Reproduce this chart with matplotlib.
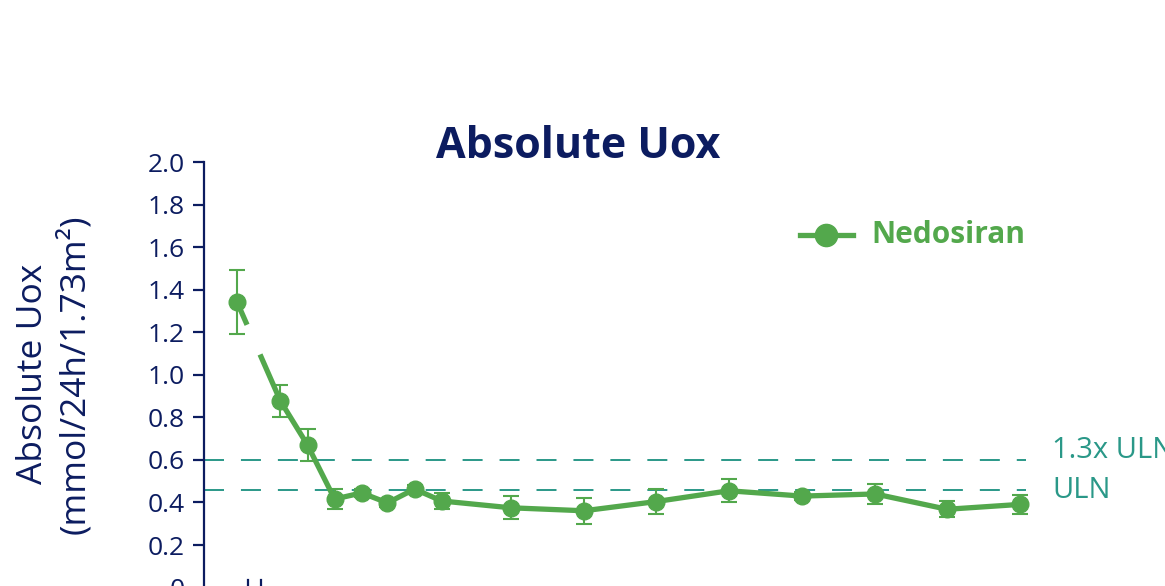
"""
Absolute Uox over time, Nedosiran arm, mean +/- SE.
"""

import matplotlib

matplotlib.use("Agg")
import matplotlib.pyplot as plt
import matplotlib.ticker as ticker
import numpy as np

NAVY = "#0c1c60"
GREEN = "#53a84c"
TEAL = "#2a9888"

plt.rcParams["font.family"] = ["Open Sans", "DejaVu Sans"]
plt.rcParams["lines.scale_dashes"] = False

# visit position on the (broken) time axis, baseline first
visit_x = [0, 1.6, 2.6, 3.6, 4.6, 5.55, 6.55, 7.55, 10.1, 12.8, 15.45, 18.15, 20.85, 23.55, 26.2, 28.9]
uox_mean = [1.342, 0.877, 0.670, 0.416, 0.445, 0.398, 0.463, 0.407,
            0.375, 0.361, 0.404, 0.455, 0.430, 0.440, 0.368, 0.391]
uox_se = [0.150, 0.075, 0.073, 0.047, 0.020, 0.020, 0.020, 0.038,
          0.055, 0.062, 0.057, 0.055, 0.020, 0.045, 0.038, 0.043]

uln = 0.46
uln_13 = 0.60
y_ticks = [0, 0.2, 0.4, 0.6, 0.8, 1.0, 1.2, 1.4, 1.6, 1.8, 2.0]

W, H = 1165, 586


def fx(px):
    return px / W


def fy(py):
    # pixel row from the top -> figure fraction
    return (H - py) / H


fig = plt.figure(figsize=(11.65, 5.86), dpi=100, facecolor="white")
# the source image is cropped just under the x axis, so the axes run off the bottom
ax = fig.add_axes([fx(204), -0.0027, fx(1040 - 204), 0.7262])
ax.set_xlim(-1.22, 29.63)
ax.set_ylim(0, 2.0)

for s in ["top", "right", "bottom"]:
    ax.spines[s].set_visible(False)
ax.spines["left"].set_color(NAVY)
ax.spines["left"].set_linewidth(1.6)
ax.set_xticks([])
ax.set_yticks(y_ticks)
ax.yaxis.set_major_formatter(ticker.FuncFormatter(lambda v, _: "0" if v == 0 else f"{v:.1f}"))
ax.tick_params(axis="y", colors=NAVY, labelcolor=NAVY, labelsize=19, length=8, width=1.6, pad=6)

# reference lines
x_end = 29.1
for lvl in (uln_13, uln):
    ax.plot([-1.22, x_end], [lvl, lvl], color=TEAL, lw=1.4, dashes=(14.4, 12.2), zorder=1)
fig.text(fx(1052), fy(451), "1.3x ULN", color=TEAL, fontsize=21, va="center", ha="left")
fig.text(fx(1052), fy(490), "ULN", color=TEAL, fontsize=21, va="center", ha="left")

x = np.array(visit_x)
y = np.array(uox_mean)

ax.errorbar(x, y, yerr=uox_se, fmt="none", ecolor=GREEN, elinewidth=1.5,
            capsize=5.5, capthick=1.5, zorder=2)

# line with a break between baseline and first on-treatment visit
ax.plot(x[1:], y[1:], color=GREEN, lw=3.8, zorder=3, solid_capstyle="butt")
for f0, f1 in [(0.0, 0.23), (0.53, 1.0)]:
    xs = [x[0] + f0 * (x[1] - x[0]), x[0] + f1 * (x[1] - x[0])]
    ys = [y[0] + f0 * (y[1] - y[0]), y[0] + f1 * (y[1] - y[0])]
    ax.plot(xs, ys, color=GREEN, lw=3.8, zorder=3, solid_capstyle="butt")
ax.plot(x, y, "o", color=GREEN, ms=12, zorder=4, linestyle="none")

# axis-break marks on the x axis
for bx in (0.41, 0.89):
    ax.plot([bx, bx], [-0.04, 0.035], color=NAVY, lw=1.6, clip_on=False)

# legend
ax.plot([fx(800), fx(853)], [fy(235), fy(235)], transform=fig.transFigure,
        color=GREEN, lw=3.8, clip_on=False)
ax.plot([fx(826)], [fy(235)], "o", transform=fig.transFigure, color=GREEN, ms=16,
        clip_on=False)
fig.text(fx(871), fy(235), "Nedosiran", color=GREEN, fontsize=21.5,
         fontweight="bold", va="center", ha="left")

fig.text(fx(578), fy(146), "Absolute Uox", color=NAVY, fontsize=31,
         fontweight="bold", ha="center", va="center")
fig.text(fx(54), fy(374), "Absolute Uox\n(mmol/24h/1.73m\u00b2)", color=NAVY,
         fontsize=25.5, rotation=90, ha="center", va="center", linespacing=1.25)

fig.savefig("out.png", dpi=100, facecolor="white")
